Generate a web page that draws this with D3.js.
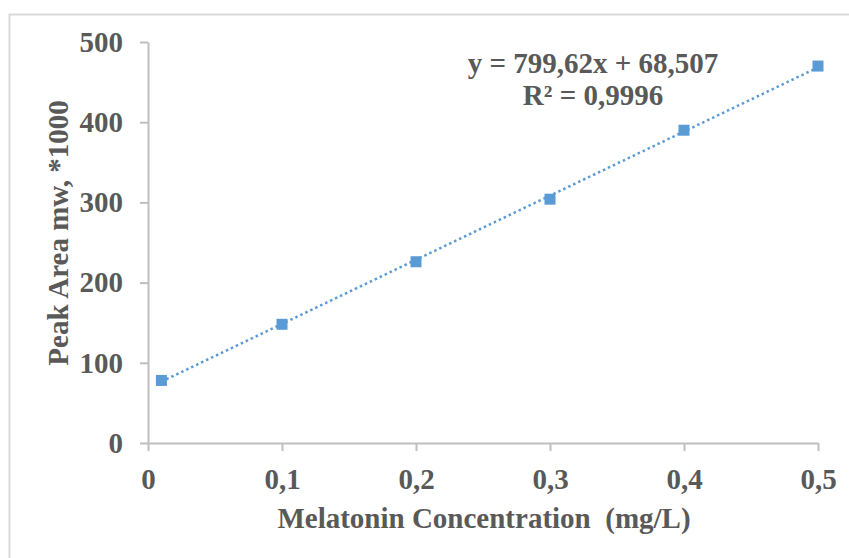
<!DOCTYPE html>
<html>
<head>
<meta charset="utf-8">
<script src="https://cdn.jsdelivr.net/npm/d3@7"></script>
<style>
  body { margin: 0; background: #fff; }
  svg { display: block; font-family: "Liberation Serif", "Times New Roman", serif; }
</style>
</head>
<body>
<svg id="chart"></svg>
<script>
// data
const concentrations = [0.01, 0.1, 0.2, 0.3, 0.4, 0.5];
const peakAreas = [78, 148, 226, 304, 390, 470];
const xTicks = [0, 0.1, 0.2, 0.3, 0.4, 0.5];
const yTicks = [0, 100, 200, 300, 400, 500];
const slope = 799.62;
const intercept = 68.507;
const equationLines = ["y = 799,62x + 68,507", "R² = 0,9996"];

const width = 849, height = 558;
const svg = d3.select("#chart").attr("width", width).attr("height", height);

// chart frame
svg.append("rect")
  .attr("x", 9.5).attr("y", 14.5)
  .attr("width", width + 20).attr("height", height + 20)
  .attr("fill", "none")
  .attr("stroke", "#d9d9d9")
  .attr("stroke-width", 2);

const locale = d3.formatLocale({ decimal: ",", thousands: " ", grouping: [3], currency: ["", ""] });
const fmt = locale.format("~g");

const x = d3.scaleLinear().domain([0, 0.5]).range([148, 818]);
const y = d3.scaleLinear().domain([0, 500]).range([443, 42]);

const axisColor = "#bfbfbf";
const textColor = "#595959";
const fontSize = "29px";

const xAxis = svg.append("g")
  .attr("transform", `translate(0,${y(0)})`)
  .call(d3.axisBottom(x).tickValues(xTicks).tickFormat(fmt).tickSizeInner(8).tickSizeOuter(0).tickPadding(17));

const yAxis = svg.append("g")
  .attr("transform", `translate(${x(0)},0)`)
  .call(d3.axisLeft(y).tickValues(yTicks).tickFormat(fmt).tickSizeInner(8).tickSizeOuter(0).tickPadding(17));

[xAxis, yAxis].forEach(a => {
  a.select(".domain").attr("stroke", axisColor).attr("stroke-width", 2);
  a.selectAll(".tick line").attr("stroke", axisColor).attr("stroke-width", 2);
  a.selectAll(".tick text")
    .attr("fill", textColor)
    .style("font-size", fontSize)
    .style("font-weight", "bold")
    .style("font-family", "'Liberation Serif', serif");
});

// trendline
const x0 = concentrations[0], x1 = concentrations[concentrations.length - 1];
svg.append("line")
  .attr("x1", x(x0)).attr("y1", y(slope * x0 + intercept))
  .attr("x2", x(x1)).attr("y2", y(slope * x1 + intercept))
  .attr("stroke", "#5b9bd5")
  .attr("stroke-width", 2.5)
  .attr("stroke-dasharray", "2.5,3");

// markers
const size = 11;
svg.selectAll("rect.pt")
  .data(concentrations.map((c, i) => [c, peakAreas[i]]))
  .enter()
  .append("rect")
  .attr("class", "pt")
  .attr("x", d => x(d[0]) - size / 2)
  .attr("y", d => y(d[1]) - size / 2)
  .attr("width", size)
  .attr("height", size)
  .attr("fill", "#5b9bd5");

// equation label
svg.selectAll("text.eq")
  .data(equationLines)
  .enter()
  .append("text")
  .attr("class", "eq")
  .attr("x", 593)
  .attr("y", (d, i) => 73 + i * 32)
  .attr("text-anchor", "middle")
  .attr("fill", textColor)
  .style("font-size", fontSize)
  .style("font-weight", "bold")
  .text(d => d);

// axis titles
svg.append("text")
  .attr("x", 484)
  .attr("y", 528)
  .attr("text-anchor", "middle")
  .attr("fill", textColor)
  .style("font-size", fontSize)
  .style("font-weight", "bold")
  .style("white-space", "pre")
  .text("Melatonin Concentration  (mg/L)");

svg.append("text")
  .attr("transform", `translate(68,233) rotate(-90)`)
  .attr("text-anchor", "middle")
  .attr("fill", textColor)
  .style("font-size", fontSize)
  .style("font-weight", "bold")
  .text("Peak Area mw, *1000");
</script>
</body>
</html>
